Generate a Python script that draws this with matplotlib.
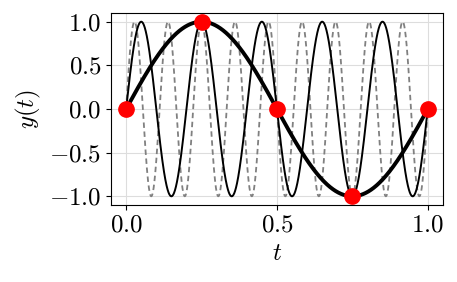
import numpy as np
import matplotlib
matplotlib.use("Agg")
import matplotlib.pyplot as plt

# Data: signal frequencies (Hz) and sample instants
f_base = 1        # thick black
f_alias1 = 5      # thin black
f_alias2 = 9      # grey dashed
t_samples = [0.0, 0.25, 0.5, 0.75, 1.0]
x_ticks = [0.0, 0.5, 1.0]
y_ticks = [-1.0, -0.5, 0.0, 0.5, 1.0]

plt.rcParams['font.family'] = 'serif'
plt.rcParams['font.serif'] = ['cmr10']
plt.rcParams['mathtext.fontset'] = 'cm'
plt.rcParams['axes.formatter.use_mathtext'] = True
plt.rcParams['axes.unicode_minus'] = True

t = np.linspace(0, 1, 2000)
ts = np.array(t_samples)

fig, ax = plt.subplots(figsize=(4.57, 2.82), dpi=100)
fig.subplots_adjust(left=0.243, right=0.969, top=0.954, bottom=0.273)

ax.plot(t, np.sin(2 * np.pi * f_alias2 * t), '--', color='gray', linewidth=1.3,
        dashes=(3, 2))
ax.plot(t, np.sin(2 * np.pi * f_alias1 * t), color='black', linewidth=1.4)
ax.plot(t, np.sin(2 * np.pi * f_base * t), color='black', linewidth=2.8)
ax.plot(ts, np.sin(2 * np.pi * f_base * ts), 'o', color='red', markersize=11, zorder=5)

ax.set_xticks(x_ticks)
ax.set_yticks(y_ticks)
ax.tick_params(labelsize=18)
ax.set_xlabel(r'$t$', fontsize=18)
ax.set_ylabel(r'$y(t)$', fontsize=18)
ax.grid(True, color='#dddddd', linewidth=0.8)

fig.savefig('out.png', dpi=100)
